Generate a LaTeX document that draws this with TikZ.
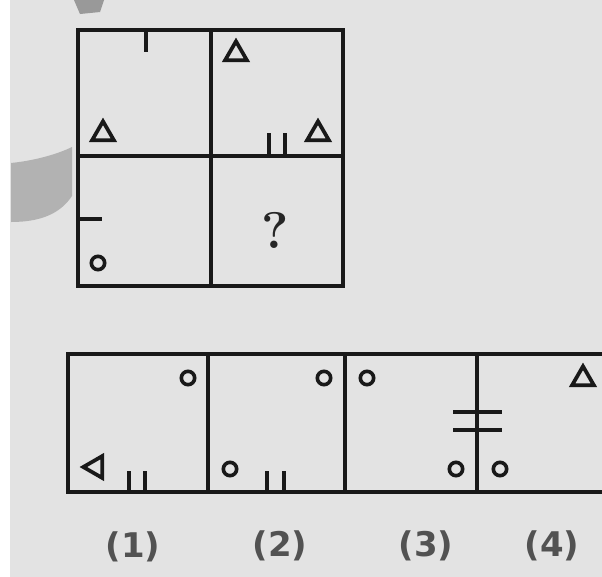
\documentclass[tikz,border=0pt]{standalone}
\usepackage{fontspec}
\newfontfamily\optfont{DejaVu Sans}
\usetikzlibrary{shapes.geometric}

\begin{document}
\begin{tikzpicture}[x=0.03cm,y=-0.03cm,
  frame/.style={line width=3.8pt,black!90},
  tick/.style={line width=3pt,black!90},
  circ/.style={draw=black!90,circle,line width=3.1pt,inner sep=0pt,minimum size=0.4cm},
  tri/.style={draw=black!90,regular polygon,regular polygon sides=3,line width=3.2pt,inner sep=0pt,minimum size=0.76cm},
  opt/.style={font=\optfont\bfseries\fontsize{29}{29}\selectfont,text=black!68}]
  \useasboundingbox (0,0) rectangle (602,577);
  % paper and shadows
  \fill[black!11] (0,0) rectangle (602,577);
  \fill[white] (0,0) rectangle (10,577);
  \fill[black!30] (11,163) .. controls (40,160) and (62,152) .. (72,147) -- (72,196) .. controls (60,214) and (40,222) .. (11,222) -- cycle;
  \fill[black!40] (74,0) -- (104,0) -- (100,12) -- (80,14) -- cycle;
  % question grid
  \draw[frame] (78,30) rectangle (343,286);
  \draw[frame] (211,30) -- (211,286);
  \draw[frame] (78,156) -- (343,156);
  % top left
  \draw[tick] (146,30) -- (146,52);
  \node[tri] (t1) at (103,134) {};
  % top right
  \node[tri] (t2) at (236,54) {};
  \node[tri] (t3) at (318,134) {};
  \draw[tick] (269,133) -- (269,156);
  \draw[tick] (285,133) -- (285,156);
  % bottom left
  \draw[tick] (78,219) -- (102,219);
  \node[circ] (c1) at (98,263) {};
  % bottom right
  \node[font=\bfseries\fontsize{44}{44}\selectfont,text=black!85] (q) at (275,230) {?};
  % answer strip
  \draw[frame] (606,354) -- (68,354) -- (68,492) -- (606,492);
  \draw[frame] (208,354) -- (208,492);
  \draw[frame] (345,354) -- (345,492);
  \draw[frame] (477,354) -- (477,492);
  % option 1
  \node[circ] (a1) at (188,378) {};
  \node[tri,shape border rotate=90] (a2) at (96,467) {};
  \draw[tick] (129,471) -- (129,492);
  \draw[tick] (145,471) -- (145,492);
  % option 2
  \node[circ] (b1) at (324,378) {};
  \node[circ] (b2) at (230,469) {};
  \draw[tick] (267,471) -- (267,492);
  \draw[tick] (284,471) -- (284,492);
  % option 3
  \node[circ] (d1) at (367,378) {};
  \node[circ] (d2) at (456,469) {};
  \draw[tick] (453,412) -- (502,412);
  \draw[tick] (453,430) -- (502,430);
  % option 4
  \node[circ] (e1) at (500,469) {};
  \node[tri] (e2) at (583,379) {};
  % labels
  \node[opt] (l1) at (133,547) {(1)};
  \node[opt] (l2) at (280,546) {(2)};
  \node[opt] (l3) at (426,546) {(3)};
  \node[opt] (l4) at (552,546) {(4)};
\end{tikzpicture}
\end{document}
